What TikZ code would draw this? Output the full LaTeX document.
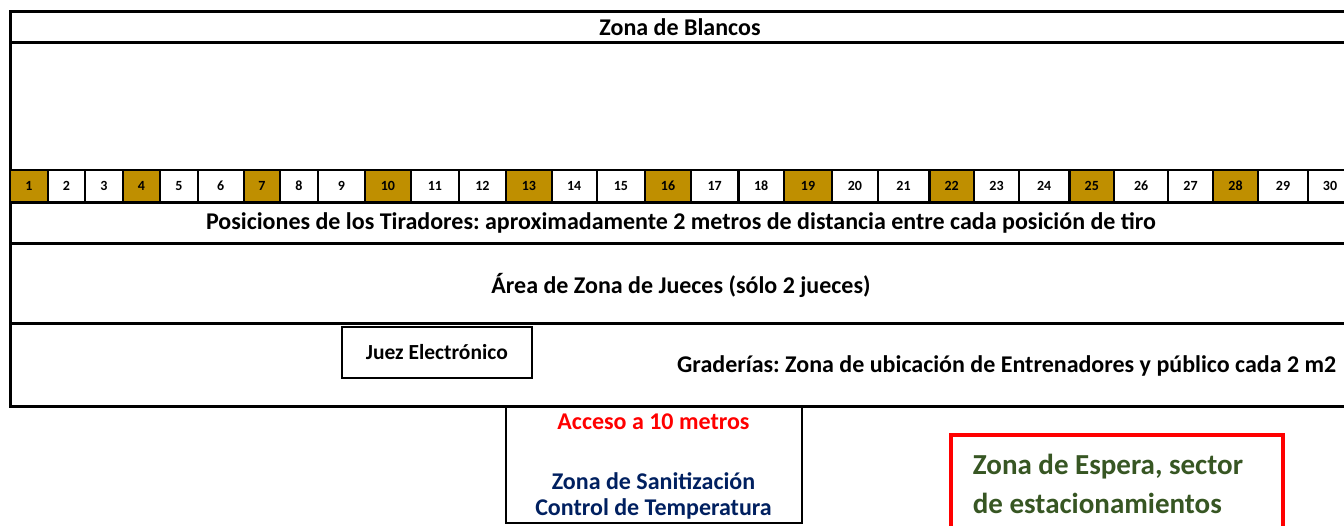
\documentclass[tikz,border=0pt]{standalone}
\usepackage{fontspec}
\setmainfont{Carlito}
\frenchspacing
\definecolor{gold}{HTML}{BF8F00}
\definecolor{navy}{HTML}{002060}
\definecolor{darkgreen}{HTML}{375623}
\definecolor{pureRed}{HTML}{FF0000}
\begin{document}
\begin{tikzpicture}[x=1pt,y=-1pt,
  frame/.style={line width=3pt},
  cellbox/.style={draw, line width=2.4pt, inner sep=0pt, outer sep=0pt, anchor=north west,
    text height=9pt, text depth=0pt,
    font=\fontsize{14}{17}\selectfont\bfseries},
  goldcell/.style={cellbox, fill=gold},
  maintext/.style={inner sep=0pt, font=\fontsize{24}{29}\selectfont\bfseries},
  boxline/.style={line width=2pt}
]
\useasboundingbox (0,0) rectangle (1344,525);
\clip (0,0) rectangle (1344,525);
\fill[white] (0,0) rectangle (1344,525);

% main frame
\draw[frame] (10,11) rectangle (1352,406);
\draw[frame] (10,42) -- (1352,42);
\draw[frame] (10,243) -- (1352,243);
\draw[frame] (10,323.5) -- (1352,323.5);

% shooter positions
\foreach \i/\a/\b in {1/10/47.7, 2/47.7/85, 3/85/122.7, 4/122.7/160, 5/160/197.7,
  6/197.7/243.7, 7/243.7/280, 8/280/318, 9/318/364.7, 10/364.7/411,
  11/411/458.7, 12/458.7/506, 13/506/551.7, 14/551.7/596.7, 15/596.7/645,
  16/645/691, 17/691/738.3, 18/738.3/784, 19/784/832, 20/832/877.7,
  21/877.7/929.3, 22/929.3/974, 23/974/1019, 24/1019/1069.3, 25/1069.3/1114.2,
  26/1114.2/1168, 27/1168/1213, 28/1213/1258, 29/1258/1308, 30/1308/1352}{
  \pgfmathtruncatemacro{\r}{mod(\i,3)}
  \pgfmathsetmacro{\w}{\b-\a}
  \ifnum\r=1
    \node[goldcell, minimum width=\w pt, minimum height=32.5pt] (c\i) at (\a,170) {\i};
  \else
    \node[cellbox, minimum width=\w pt, minimum height=32.5pt] (c\i) at (\a,170) {\i};
  \fi
}

\node[maintext] (blancos) at (680,27) {Zona de Blancos};
\node[maintext] (posiciones) at (681,223) {Posiciones de los Tiradores: aproximadamente 2 metros de distancia entre cada posición de tiro};
\node[maintext] (jueces) at (681,285) {Área de Zona de Jueces (sólo 2 jueces)};
\node[maintext, anchor=west] (graderias) at (677,366) {Graderías: Zona de ubicación de Entrenadores y público cada 2 m2};

% Juez electronico
\node[draw, boxline, minimum width=190.3pt, minimum height=50.4pt, inner sep=0pt,
  font=\fontsize{21.5}{25}\selectfont\bfseries] (juez) at (436.85,352.5) {Juez Electrónico};

% Sanitization box
\draw[boxline] (506,406) rectangle (801.7,523.3);
\node[maintext, text=pureRed] (acceso) at (653.5,421.5) {Acceso a 10 metros};
\node[maintext, text=navy] (sanit) at (653.5,481) {Zona de Sanitización};
\node[maintext, text=navy] (temp) at (653.5,509) {Control de Temperatura};

% Waiting zone
\draw[pureRed, line width=4pt] (950.7,540) |- (1283.3,435) -- (1283.3,540);
\node[inner sep=0pt, anchor=west, text=darkgreen, font=\fontsize{29}{35}\selectfont\bfseries] (espera1) at (972.7,466.7) {Zona de Espera, sector};
\node[inner sep=0pt, anchor=west, text=darkgreen, font=\fontsize{29}{35}\selectfont\bfseries] (espera2) at (972.7,503.3) {de estacionamientos};
\end{tikzpicture}
\end{document}
